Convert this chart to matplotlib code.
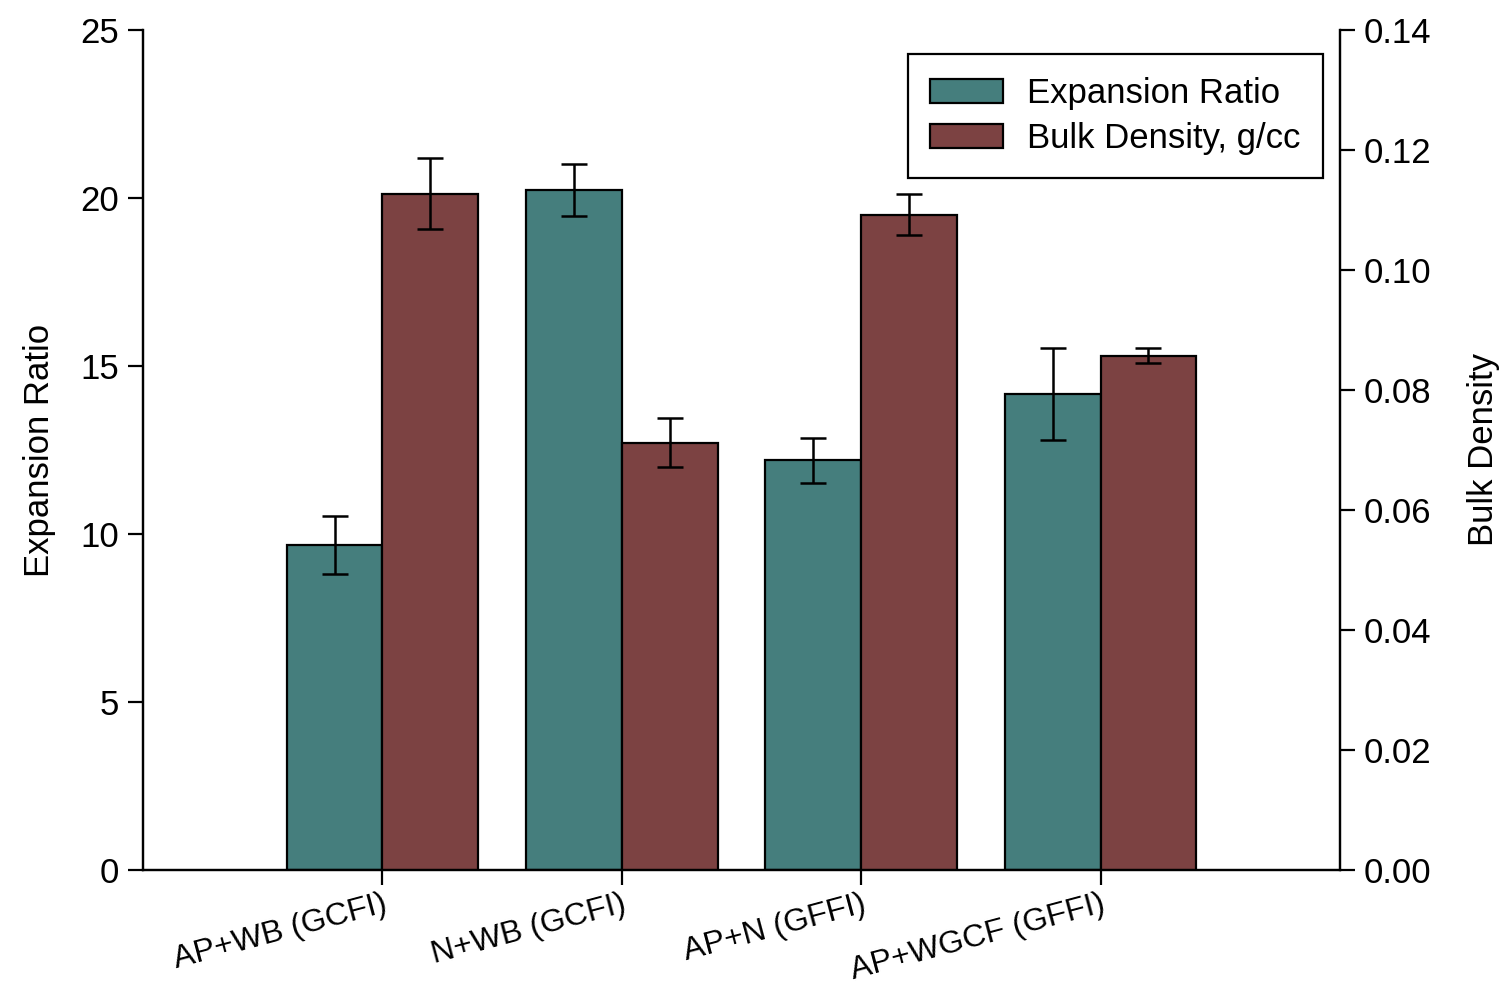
import matplotlib
matplotlib.use("Agg")
import matplotlib.pyplot as plt
import numpy as np

plt.rcParams['font.family'] = ['Liberation Sans', 'DejaVu Sans']

# Foam samples and measurements
samples = ['AP+WB (GCFI)', 'N+WB (GCFI)', 'AP+N (GFFI)', 'AP+WGCF (GFFI)']
expansion = [9.67, 20.24, 12.20, 14.17]
expansion_err = [0.86, 0.77, 0.67, 1.38]
density = [0.1127, 0.0712, 0.1092, 0.0857]
density_err = [0.0059, 0.0041, 0.0034, 0.00125]

teal = '#457e7d'
maroon = '#7c4242'
fs = 25

fig = plt.figure(figsize=(15.05, 9.84), dpi=100)
ax = fig.add_axes([143 / 1505, 114 / 984, 1197 / 1505, 840 / 984])
ax2 = ax.twinx()

x = np.arange(1, len(samples) + 1)
w = 0.4
err_kw = dict(elinewidth=1.8, capthick=1.8, capsize=9.5, ecolor='black')

b1 = ax.bar(x - w / 2, expansion, w, yerr=expansion_err, color=teal,
            edgecolor='black', linewidth=1.6, error_kw=err_kw,
            label='Expansion Ratio')
b2 = ax2.bar(x + w / 2, density, w, yerr=density_err, color=maroon,
             edgecolor='black', linewidth=1.6, error_kw=err_kw,
             label='Bulk Density, g/cc')

ax.set_xlim(0, 5)
ax.set_ylim(0, 25)
ax2.set_ylim(0, 0.14)
ax.set_yticks(np.arange(0, 26, 5))
ax2.set_yticks(np.arange(0, 0.141, 0.02))
ax2.set_yticklabels([f'{v:.2f}' for v in np.arange(0, 0.141, 0.02)])

ax.set_xticks(x)
ax.set_xticklabels(samples, rotation=15, ha='right', va='top',
                   rotation_mode='anchor', fontsize=23)

for a in (ax, ax2):
    a.spines['top'].set_visible(False)
    for s in a.spines.values():
        s.set_linewidth(1.6)
    a.tick_params(axis='y', direction='out', length=11, width=1.6,
                  labelsize=fs, pad=6)
ax.tick_params(axis='x', direction='out', length=11, width=1.6, pad=3)

ax.set_ylabel('Expansion Ratio', fontsize=fs, labelpad=18)
ax2.set_ylabel('Bulk Density', fontsize=fs, labelpad=26)

leg = ax2.legend([b1, b2], ['Expansion Ratio', 'Bulk Density, g/cc'],
                 loc='upper right', bbox_to_anchor=(0.986, 0.971),
                 borderaxespad=0, fontsize=fs, fancybox=False, framealpha=1,
                 edgecolor='black', handlelength=2.1, handleheight=0.7,
                 borderpad=0.65, labelspacing=0.35, handletextpad=0.7)
leg.get_frame().set_linewidth(1.6)

fig.savefig('out.png', dpi=100)
